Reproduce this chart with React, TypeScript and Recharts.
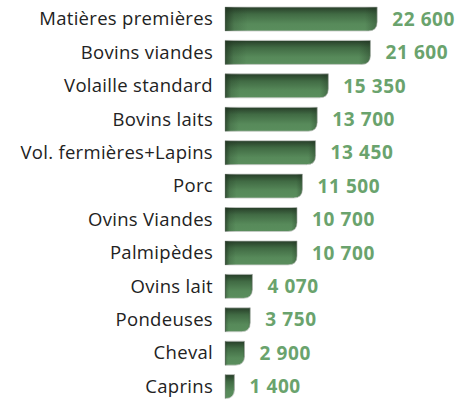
import React from 'react';
import { BarChart, Bar, XAxis, YAxis, LabelList } from 'recharts';

const categories = [
  'Matières premières',
  'Bovins viandes',
  'Volaille standard',
  'Bovins laits',
  'Vol. fermières+Lapins',
  'Porc',
  'Ovins Viandes',
  'Palmipèdes',
  'Ovins lait',
  'Pondeuses',
  'Cheval',
  'Caprins',
];
const values = [22600, 21600, 15350, 13700, 13450, 11500, 10700, 10700, 4070, 3750, 2900, 1400];

const data = categories.map((name, i) => ({ name, value: values[i] }));

const fmt = (v: number) => {
  const s = String(v);
  return s.length > 3 ? s.slice(0, s.length - 3) + ' ' + s.slice(-3) : s;
};

const BarShape = (props: any) => {
  const { x, y, width, height } = props;
  if (!width || width <= 0) return null;
  const r = Math.min(9, width, height / 2);
  const d = `M${x},${y} L${x + width},${y} L${x + width},${y + height - r} Q${x + width},${y + height} ${x + width - r},${y + height} L${x},${y + height} Z`;
  return (
    <g>
      <path d={d} fill="url(#gV)" stroke="#c8cbc8" strokeWidth={0.8} />
      <path d={d} fill="url(#gH)" />
      <path d={d} fill="url(#gR)" />
    </g>
  );
};

export default function App() {
  return (
    <div style={{ position: 'absolute', left: 0, top: 0 }}>
      <BarChart
        width={470}
        height={403}
        data={data}
        layout="vertical"
        margin={{ top: 2, right: 43, bottom: 0, left: 0 }}
        barSize={24}
      >
        <defs>
          <linearGradient id="gV" x1="0" y1="0" x2="0" y2="1">
            <stop offset="0%" stopColor="#263d28" />
            <stop offset="30%" stopColor="#416b44" />
            <stop offset="70%" stopColor="#578a5a" />
            <stop offset="100%" stopColor="#5a8e5d" />
          </linearGradient>
          <linearGradient id="gH" x1="0" y1="0" x2="1" y2="0">
            <stop offset="0%" stopColor="#1e301f" stopOpacity={0.7} />
            <stop offset="6%" stopColor="#1e301f" stopOpacity={0.2} />
            <stop offset="15%" stopColor="#1e301f" stopOpacity={0} />
            <stop offset="100%" stopColor="#1e301f" stopOpacity={0} />
          </linearGradient>
          <linearGradient id="gR" x1="0" y1="0" x2="1" y2="0">
            <stop offset="0%" stopColor="#1e301f" stopOpacity={0} />
            <stop offset="92%" stopColor="#1e301f" stopOpacity={0} />
            <stop offset="100%" stopColor="#1e301f" stopOpacity={0.35} />
          </linearGradient>
        </defs>
        <XAxis type="number" domain={[0, 30000]} hide />
        <YAxis
          type="category"
          dataKey="name"
          width={225}
          axisLine={false}
          tickLine={false}
          tickSize={0}
          tickMargin={12}
          interval={0}
          tick={{ fill: '#222', fontSize: 18.5, letterSpacing: 0.3, fontFamily: '"Open Sans", sans-serif' }}
        />
        <Bar dataKey="value" isAnimationActive={false} shape={<BarShape />}>
          <LabelList
            dataKey="value"
            position="right"
            offset={15}
            formatter={(v: any) => fmt(Number(v))}
            style={{ fill: '#6aa36d', fontSize: 19, letterSpacing: 0.6, fontWeight: 700, fontFamily: '"Open Sans", sans-serif' }}
          />
        </Bar>
      </BarChart>
    </div>
  );
}
